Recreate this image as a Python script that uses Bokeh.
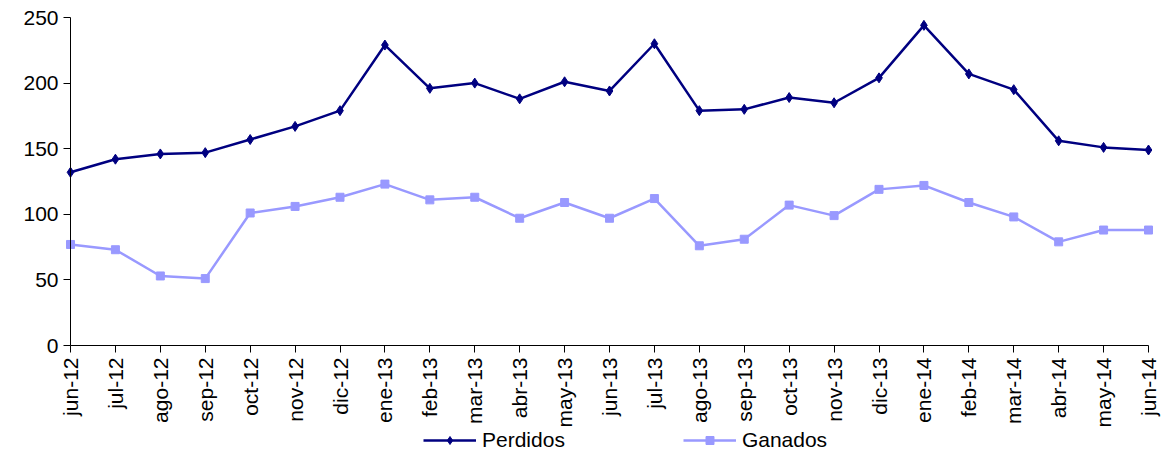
import math
from bokeh.plotting import figure
from bokeh.models import Range1d, FixedTicker, Legend, LegendItem, LinearAxis
from bokeh.embed import file_html
from bokeh.resources import INLINE

months = ["jun-12", "jul-12", "ago-12", "sep-12", "oct-12", "nov-12", "dic-12",
          "ene-13", "feb-13", "mar-13", "abr-13", "may-13", "jun-13", "jul-13",
          "ago-13", "sep-13", "oct-13", "nov-13", "dic-13", "ene-14", "feb-14",
          "mar-14", "abr-14", "may-14", "jun-14"]
perdidos = [132, 142, 146, 147, 157, 167, 179, 229, 196, 200, 188, 201, 194, 230,
            179, 180, 189, 185, 204, 244, 207, 195, 156, 151, 149]
ganados = [77, 73, 53, 51, 101, 106, 113, 123, 111, 113, 97, 109, 97, 112,
           76, 81, 107, 99, 119, 122, 109, 98, 79, 88, 88]
y_ticks = [0, 50, 100, 150, 200, 250]

xs = list(range(len(months)))
FONT = "Liberation Sans"
W, H = 1166, 454
X0, X1 = 70, 1148     # pixel position of first / last month
Y0, Y1 = 345, 17      # pixel position of 0 / 250
n = len(months) - 1
sx = (X1 - X0) / n
sy = (Y0 - Y1) / 250.0

p = figure(width=W, height=H, output_backend="svg", toolbar_location=None,
           x_range=Range1d(-X0 / sx, n + (W - X1) / sx),
           y_range=Range1d(-(H - Y0) / sy, 250 + Y1 / sy),
           x_axis_location=None, y_axis_location=None, min_border=0)
p.outline_line_color = None
p.xgrid.visible = False
p.ygrid.visible = False

l1 = p.line(xs, perdidos, line_color="#000080", line_width=2.5)
m1 = p.scatter(xs, perdidos, marker="diamond", size=10, color="#000080")
l2 = p.line(xs, ganados, line_color="#9999FF", line_width=2.5)
m2 = p.scatter(xs, ganados, marker="square", size=8, color="#9999FF")

xaxis = LinearAxis(ticker=FixedTicker(ticks=xs), fixed_location=0, bounds=(0, n),
                   major_label_overrides={i: m for i, m in enumerate(months)},
                   major_label_orientation=math.pi / 2)
yaxis = LinearAxis(ticker=FixedTicker(ticks=y_ticks), fixed_location=0, bounds=(0, 250))
for ax in (xaxis, yaxis):
    ax.major_label_text_font = FONT
    ax.major_label_text_font_size = "21px"
    ax.major_label_text_color = "#000000"
    ax.axis_line_color = "#000000"
    ax.major_tick_line_color = "#000000"
    ax.major_tick_out = 7
    ax.major_tick_in = 0
    ax.minor_tick_line_color = None
    ax.major_label_standoff = 5
p.add_layout(xaxis, "below")
p.add_layout(yaxis, "left")

legend = Legend(items=[LegendItem(label="Perdidos", renderers=[l1, m1]),
                       LegendItem(label="Ganados", renderers=[l2, m2])],
                orientation="horizontal", location=(423, 2),
                glyph_width=53, glyph_height=20, label_standoff=6, spacing=118,
                padding=0, margin=0, border_line_color=None,
                background_fill_alpha=0, label_text_font=FONT,
                label_text_font_size="21px", label_text_color="#000000")
p.add_layout(legend, "center")

open("out.html", "w").write(file_html(p, INLINE))
